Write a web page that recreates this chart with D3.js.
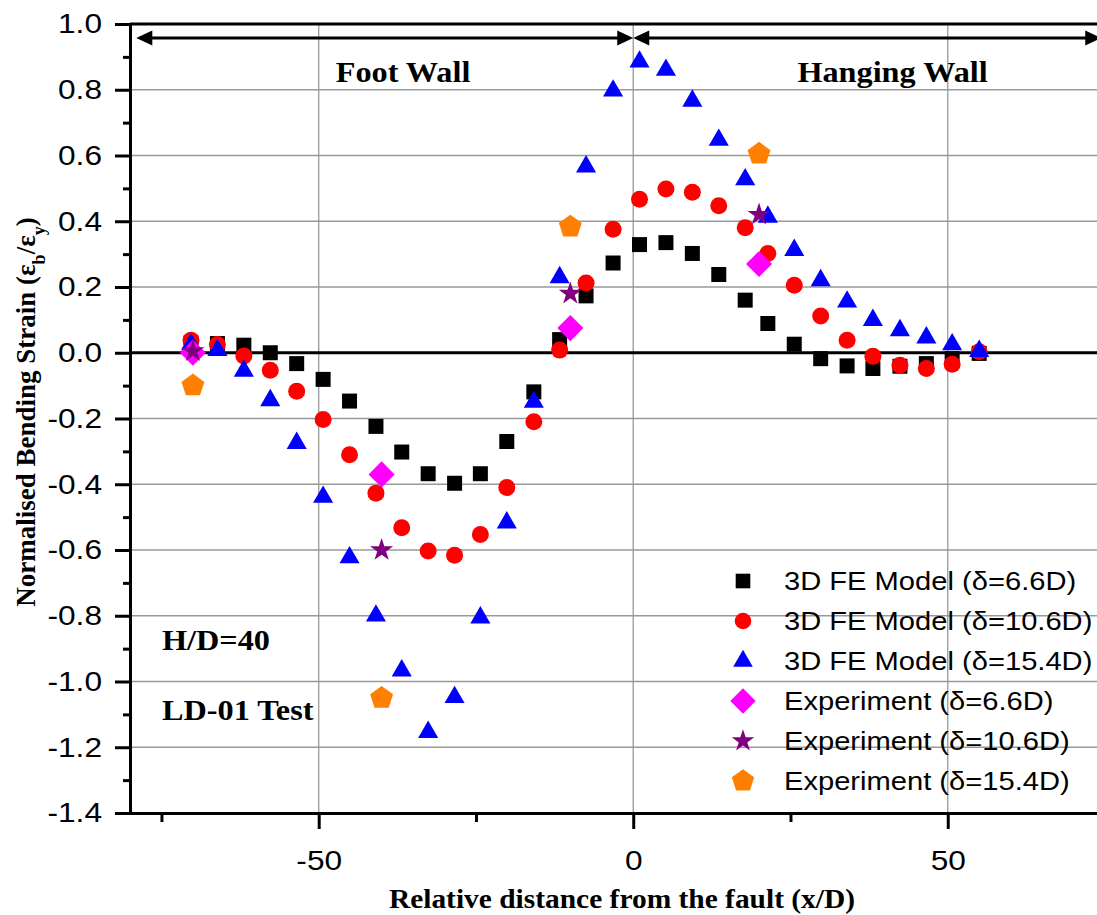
<!DOCTYPE html>
<html>
<head>
<meta charset="utf-8">
<script src="https://cdn.jsdelivr.net/npm/d3@7"></script>
<style>
  body { margin: 0; background: #fff; }
  .axis text { font-family: "Liberation Sans", Arial, sans-serif; font-size: 28px; fill: #000; }
  .bold-serif { font-family: "Liberation Serif", "Times New Roman", serif; font-weight: bold; fill: #000; }
  .legend-text { font-family: "Liberation Sans", Arial, sans-serif; font-size: 26px; fill: #000; }
</style>
</head>
<body>
<div id="chart"></div>
<script>
// x/D positions of the FE model output points
const xPositions = [-70.3, -66.1, -61.9, -57.7, -53.5, -49.3, -45.1, -40.9, -36.8, -32.6, -28.4,
  -24.3, -20.1, -15.8, -11.7, -7.5, -3.2, 1.0, 5.2, 9.4, 13.6, 17.8, 21.4, 25.6, 29.8, 34.0,
  38.1, 42.4, 46.6, 50.7, 55.0];

// 3D FE model, normalised bending strain
const fe66 = [0.03, 0.028, 0.023, 0.0, -0.033, -0.081, -0.147, -0.224, -0.302, -0.368, -0.397,
  -0.368, -0.27, -0.119, 0.04, 0.173, 0.273, 0.329, 0.335, 0.302, 0.238, 0.16, 0.089, 0.026,
  -0.018, -0.04, -0.048, -0.041, -0.033, -0.018, -0.002];
const fe106 = [0.038, 0.025, -0.01, -0.053, -0.117, -0.203, -0.31, -0.427, -0.532, -0.603, -0.616,
  -0.553, -0.41, -0.21, 0.008, 0.212, 0.376, 0.467, 0.498, 0.488, 0.447, 0.38, 0.302, 0.205,
  0.112, 0.038, -0.011, -0.038, -0.048, -0.035, 0.003];
const fe154 = [0.025, 0.008, -0.055, -0.145, -0.275, -0.439, -0.623, -0.8, -0.967, -1.154, -1.048,
  -0.806, -0.517, -0.15, 0.229, 0.566, 0.797, 0.885, 0.86, 0.766, 0.647, 0.527, 0.413, 0.312,
  0.22, 0.155, 0.099, 0.068, 0.046, 0.025, 0.005];

// Experiment (measured)
const expPositions = [-70, -40, -10, 20];
const exp66 = [0.0, -0.37, 0.075, 0.27];
const exp106 = [0.005, -0.6, 0.18, 0.42];
const exp154 = [-0.1, -1.05, 0.383, 0.605];

const seriesLabels = [
  "3D FE Model (δ=6.6D)", "3D FE Model (δ=10.6D)", "3D FE Model (δ=15.4D)",
  "Experiment (δ=6.6D)", "Experiment (δ=10.6D)", "Experiment (δ=15.4D)"
];

const yMajorTicks = [-1.4, -1.2, -1.0, -0.8, -0.6, -0.4, -0.2, 0.0, 0.2, 0.4, 0.6, 0.8, 1.0];
const yMinorTicks = [-1.3, -1.1, -0.9, -0.7, -0.5, -0.3, -0.1, 0.1, 0.3, 0.5, 0.7, 0.9];
const xMajorTicks = [-50, 0, 50];
const xMinorTicks = [-75, -25, 25, 75];

// regular pentagon, d3 symbol style (size = area)
const symbolPentagon = {
  draw(context, size) {
    const r = Math.sqrt(size / 2.3776);
    for (let i = 0; i < 5; i++) {
      const a = -Math.PI / 2 + (i * 2 * Math.PI) / 5;
      if (i === 0) context.moveTo(r * Math.cos(a), r * Math.sin(a));
      else context.lineTo(r * Math.cos(a), r * Math.sin(a));
    }
    context.closePath();
  }
};

// the original figure's text is a bit wider than the fonts we have, so widen it
function widen(selection, k) {
  selection.each(function () {
    let len = this.getComputedTextLength();
    if (len > 0) {
      d3.select(this)
        .attr("textLength", len * k)
        .attr("lengthAdjust", "spacingAndGlyphs");
    }
  });
}

class StrainVis {
  constructor(_parentElement) {
    this.parentElement = _parentElement;
    this.initVis();
  }

  initVis() {
    let vis = this;

    vis.margin = { top: 24, left: 130 };
    vis.width = 975;
    vis.height = 789;

    vis.svg = d3.select("#" + vis.parentElement)
      .append("svg")
      .attr("width", 1097)
      .attr("height", 915)
      .style("display", "block");

    vis.g = vis.svg.append("g")
      .attr("transform", "translate(" + vis.margin.left + "," + vis.margin.top + ")");

    vis.x = d3.scaleLinear().domain([-80, 75]).range([0, vis.width]);
    vis.y = d3.scaleLinear().domain([-1.4, 1.0]).range([vis.height, 0]);

    // one entry per series: symbol, size, colour, rotation
    vis.series = [
      { xs: xPositions, ys: fe66, symbol: d3.symbolSquare, size: 225, color: "#000000", rot: 0 },
      { xs: xPositions, ys: fe106, symbol: d3.symbolCircle, size: 227, color: "#ff0000", rot: 0 },
      { xs: xPositions, ys: fe154, symbol: d3.symbolTriangle, size: 175, color: "#0000ff", rot: 0 },
      { xs: expPositions, ys: exp66, symbol: d3.symbolSquare, size: 340, color: "#ff00ff", rot: 45 },
      { xs: expPositions, ys: exp106, symbol: d3.symbolStar, size: 165, color: "#800080", rot: 0 },
      { xs: expPositions, ys: exp154, symbol: symbolPentagon, size: 345, color: "#ff8000", rot: 0 }
    ];

    vis.updateVis();
  }

  updateVis() {
    let vis = this;

    // Gridlines
    vis.g.append("g")
      .selectAll("line")
      .data(yMajorTicks.filter(d => d !== 0 && d !== 1.0 && d !== -1.4))
      .join("line")
      .attr("x1", 0).attr("x2", vis.width)
      .attr("y1", d => vis.y(d)).attr("y2", d => vis.y(d))
      .attr("stroke", "#999").attr("stroke-width", 1.3);

    vis.g.append("g")
      .selectAll("line")
      .data(xMajorTicks)
      .join("line")
      .attr("x1", d => vis.x(d)).attr("x2", d => vis.x(d))
      .attr("y1", 0).attr("y2", vis.height)
      .attr("stroke", "#999").attr("stroke-width", 1.3);

    // Zero line and top frame
    vis.g.append("line")
      .attr("x1", 0).attr("x2", vis.width)
      .attr("y1", vis.y(0)).attr("y2", vis.y(0))
      .attr("stroke", "#000").attr("stroke-width", 3);
    vis.g.append("line")
      .attr("x1", 0).attr("x2", vis.width)
      .attr("y1", 0).attr("y2", 0)
      .attr("stroke", "#000").attr("stroke-width", 3);

    // Axes
    vis.g.append("g").attr("class", "axis")
      .call(d3.axisLeft(vis.y).tickValues(yMajorTicks).tickSize(15).tickSizeOuter(0)
        .tickPadding(13).tickFormat(d => d.toFixed(1)));
    vis.g.append("g").attr("class", "axis minor")
      .call(d3.axisLeft(vis.y).tickValues(yMinorTicks).tickSize(7).tickFormat(""))
      .select(".domain").remove();

    vis.g.append("g").attr("class", "axis")
      .attr("transform", "translate(0," + vis.height + ")")
      .call(d3.axisBottom(vis.x).tickValues(xMajorTicks).tickSize(16).tickSizeOuter(0)
        .tickPadding(21).tickFormat(d => d));
    vis.g.append("g").attr("class", "axis minor")
      .attr("transform", "translate(0," + vis.height + ")")
      .call(d3.axisBottom(vis.x).tickValues(xMinorTicks).tickSize(9).tickFormat(""))
      .select(".domain").remove();

    vis.g.selectAll(".axis path, .axis line")
      .attr("stroke", "#000").attr("stroke-width", 3);
    vis.g.selectAll(".axis .domain").attr("stroke-linecap", "square");
    widen(vis.g.selectAll(".axis text"), 1.13);

    // Foot wall / hanging wall arrows
    let arrowY = 14;
    let arrows = [[-79, 0], [0, 74.4]];
    let head = 16, half = 7.5;
    arrows.forEach(([a, b]) => {
      let xa = vis.x(a), xb = vis.x(b);
      vis.g.append("line")
        .attr("x1", xa + 4).attr("x2", xb - 4)
        .attr("y1", arrowY).attr("y2", arrowY)
        .attr("stroke", "#000").attr("stroke-width", 3);
      vis.g.append("path")
        .attr("d", `M${xa},${arrowY}L${xa + head},${arrowY - half}L${xa + head},${arrowY + half}Z`)
        .attr("fill", "#000");
      vis.g.append("path")
        .attr("d", `M${xb},${arrowY}L${xb - head},${arrowY - half}L${xb - head},${arrowY + half}Z`)
        .attr("fill", "#000");
    });

    let notes = vis.g.append("g").attr("class", "notes");
    notes.append("text").attr("class", "bold-serif")
      .attr("x", vis.x(-47.3)).attr("y", 58)
      .style("font-size", "30px")
      .text("Foot Wall");
    notes.append("text").attr("class", "bold-serif")
      .attr("x", vis.x(26.1)).attr("y", 58)
      .style("font-size", "30px")
      .text("Hanging Wall");
    notes.append("text").attr("class", "bold-serif")
      .attr("x", 32).attr("y", 626)
      .style("font-size", "30px")
      .text("H/D=40");
    notes.append("text").attr("class", "bold-serif")
      .attr("x", 32).attr("y", 696)
      .style("font-size", "30px")
      .text("LD-01 Test");
    widen(notes.selectAll("text"), 1.075);

    // Axis titles
    vis.svg.append("text").attr("class", "bold-serif x-title")
      .attr("x", 622).attr("y", 908)
      .attr("text-anchor", "middle")
      .style("font-size", "27px")
      .text("Relative distance from the fault (x/D)");
    widen(vis.svg.select(".x-title"), 1.09);

    let yTitle = vis.svg.append("text").attr("class", "bold-serif")
      .attr("transform", "translate(35,412) rotate(-90)")
      .attr("text-anchor", "middle")
      .style("font-size", "27px");
    yTitle.append("tspan").text("Normalised Bending Strain (ε");
    yTitle.append("tspan").attr("baseline-shift", "sub").style("font-size", "18px").text("b");
    yTitle.append("tspan").text("/ε");
    yTitle.append("tspan").attr("baseline-shift", "sub").style("font-size", "18px").text("y");
    yTitle.append("tspan").text(")");

    // Data points
    vis.series.forEach(s => {
      vis.g.append("g")
        .selectAll("path")
        .data(s.xs.map((xv, i) => ({ x: xv, y: s.ys[i] })))
        .join("path")
        .attr("d", d3.symbol().type(s.symbol).size(s.size))
        .attr("transform", d => `translate(${vis.x(d.x)},${vis.y(d.y)}) rotate(${s.rot})`)
        .attr("fill", s.color);
    });

    // Legend
    let legend = vis.svg.append("g").attr("class", "legend")
      .attr("transform", "translate(743,581)");
    vis.series.forEach((s, i) => {
      legend.append("path")
        .attr("d", d3.symbol().type(s.symbol).size(s.size * 0.95))
        .attr("transform", `translate(0,${i * 40}) rotate(${s.rot})`)
        .attr("fill", s.color);
      legend.append("text")
        .attr("class", "legend-text")
        .attr("x", 41).attr("y", i * 40 + 9)
        .text(seriesLabels[i]);
    });
    widen(legend.selectAll("text"), 1.12);
  }
}

new StrainVis("chart");
</script>
</body>
</html>
